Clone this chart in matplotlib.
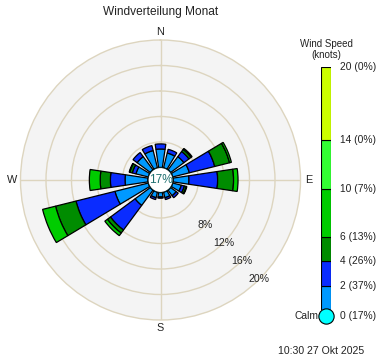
import numpy as np
import matplotlib
matplotlib.use("Agg")
import matplotlib.pyplot as plt
from matplotlib.patches import Circle

plt.rcParams['font.family'] = ['Liberation Sans', 'DejaVu Sans']

# ---------------- data ----------------
directions = ['N', 'NNE', 'NE', 'ENE', 'E', 'ESE', 'SE', 'SSE',
              'S', 'SSW', 'SW', 'WSW', 'W', 'WNW', 'NW', 'NNW']
dir_angles = [0, 22.5, 45, 67.5, 90, 112.5, 135, 157.5,
              180, 202.5, 225, 247.5, 270, 292.5, 315, 337.5]
# percent of time per direction and speed band (knots)
speed_0_2 = [2.9, 2.4, 2.6, 2.7, 2.5, 1.4, 1.1, 0.9, 0.7, 0.9, 3.0, 5.4, 3.6, 2.0, 2.6, 2.8]
speed_2_4 = [0.8, 0.6, 1.0, 4.1, 4.5, 0.5, 0.4, 0.3, 0.2, 0.3, 4.8, 6.3, 2.3, 0.6, 0.8, 0.8]
speed_4_6 = [0.0, 0.0, 0.4, 2.4, 2.5, 0.3, 0.0, 0.0, 0.0, 0.0, 0.6, 3.3, 1.6, 0.4, 0.0, 0.0]
speed_6_10 = [0.0, 0.0, 0.2, 0.3, 0.7, 0.1, 0.0, 0.0, 0.0, 0.0, 0.5, 2.1, 1.7, 0.1, 0.0, 0.0]
bands = [speed_0_2, speed_2_4, speed_4_6, speed_6_10]

speed_bounds = [0, 2, 4, 6, 10, 14, 20]
band_pcts = [37, 26, 13, 7, 0, 0]
calm_pct = 17
band_colors = ['#0099ff', '#0a2cff', '#008c00', '#00cc00', '#33ff33', '#ccff00']

ring_values = [4, 8, 12, 16, 20]
ring_labels = ['', '8%', '12%', '16%', '20%']

title = 'Windverteilung Monat'
timestamp = '10:30 27 Okt 2025'

# ---------------- figure ----------------
W, H = 382, 361
fig = plt.figure(figsize=(W / 100, H / 100), dpi=100)

cx, cy, R = 160.5, 180, 140
ax = fig.add_axes([(cx - R) / W, (H - cy - R) / H, 2 * R / W, 2 * R / H],
                  projection='polar')
calm_r_px = 12.5
rmax = 20
calm_off = calm_r_px * rmax / (R - calm_r_px)

ax.set_theta_zero_location('N')
ax.set_theta_direction(-1)
ax.set_ylim(0, rmax)
ax.set_rorigin(-calm_off)
ax.set_facecolor('#f4f4f4')
grid_col = '#ddd5bf'
ax.spines['polar'].set_color(grid_col)
ax.spines['polar'].set_linewidth(1.0)
ax.set_rticks(ring_values[:-1])
ax.set_yticklabels([])
ax.set_thetagrids([0, 90, 180, 270], labels=['', '', '', ''])
ax.grid(True, color=grid_col, linewidth=1.0)
ax.tick_params(length=0)

theta = np.deg2rad(dir_angles)
bottom = np.zeros(len(directions))
width = np.deg2rad(17)
for i, vals in enumerate(bands):
    vals = np.array(vals)
    mask = vals > 0
    ax.bar(theta[mask], vals[mask], width=width, bottom=bottom[mask],
           color=band_colors[i], edgecolor='black', linewidth=0.9, zorder=3)
    bottom = bottom + vals

# ring labels
for rv, lab in zip(ring_values, ring_labels):
    if lab:
        ax.text(np.deg2rad(135), rv, lab, ha='center', va='center',
                fontsize=7.6, color='#222222', zorder=5)

# cardinal labels
for ang, lab in zip([0, 90, 180, 270], ['N', 'E', 'S', 'W']):
    ax.text(np.deg2rad(ang), 21.3, lab, ha='center', va='center',
            fontsize=7.8, color='#222222', clip_on=False)

# calm circle
ax.add_patch(Circle((0.5, 0.5), calm_r_px / (2 * R), transform=ax.transAxes,
                    facecolor='#00ffff', edgecolor='black', linewidth=0.9,
                    zorder=6))
ax.text(0.5, 0.5, f'{calm_pct}%', transform=ax.transAxes, ha='center',
        va='center', fontsize=8.6, color='#1f6f6f', zorder=7)

fig.text(cx / W, 1 - 12.5 / H, title, ha='center', va='center', fontsize=8.6,
         color='#222222')

# ---------------- legend bar ----------------
ly_top, ly0 = 67, 310
lx0, lx1 = 321, 331
lax = fig.add_axes([lx0 / W, (H - ly0) / H, (lx1 - lx0) / W, (ly0 - ly_top) / H])
for i in range(len(band_pcts)):
    lax.bar(0, speed_bounds[i + 1] - speed_bounds[i], bottom=speed_bounds[i],
            width=1, color=band_colors[i], edgecolor='black', linewidth=0.8)
lax.set_xlim(-0.5, 0.5)
lax.set_ylim(0, 20)
lax.axis('off')
px_per = (ly0 - ly_top) / 20.0
calm_y = -6 / px_per
lax.plot([0], [calm_y], 'o', ms=11, mfc='#00ffff', mec='black', mew=0.8,
         clip_on=False, zorder=5)
lax.text(-0.75, calm_y, 'Calm', ha='right', va='center', fontsize=7.4,
         color='#222222', clip_on=False)
lax.text(1.4, calm_y, f'0 ({calm_pct}%)', ha='left', va='center', fontsize=7.4,
         color='#222222', clip_on=False)
for i in range(len(band_pcts)):
    lax.text(1.4, speed_bounds[i + 1], f'{speed_bounds[i + 1]} ({band_pcts[i]}%)',
             ha='left', va='center', fontsize=7.4, color='#222222', clip_on=False)
fig.text(326 / W, 1 - 44 / H, 'Wind Speed', ha='center', va='center',
         fontsize=7.0, color='#222222')
fig.text(326 / W, 1 - 55 / H, '(knots)', ha='center', va='center',
         fontsize=7.0, color='#222222')

fig.text(364 / W, 1 - 351 / H, timestamp, ha='right', va='center',
         fontsize=7.6, color='#222222')

fig.savefig('out.png', dpi=100)
